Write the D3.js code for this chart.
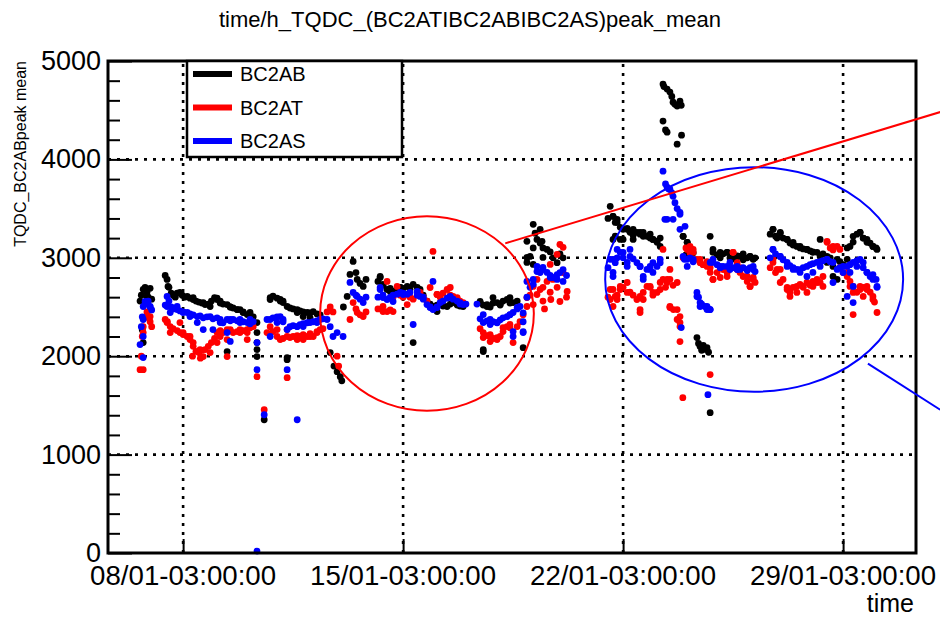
<!DOCTYPE html>
<html>
<head>
<meta charset="utf-8">
<script src="https://cdn.jsdelivr.net/npm/d3@7"></script>
<style>
  body { margin: 0; background: #fff; }
  svg { display: block; font-family: "Liberation Sans", Arial, sans-serif; }
</style>
</head>
<body>
<div id="chart"></div>
<script>
// time in days from 08/01 03:00, value = peak mean
const seriesNames = ["BC2AB", "BC2AT", "BC2AS"];
const seriesColors = ["#000000", "#ff0000", "#0000ff"];

const bc2ab = [
  [-1.37,2560],[-1.33,2620],[-1.27,2680],[-1.21,2700],[-1.15,2650],[-1.11,2600],[-1.05,2690],[-1.0,2580],[-1.3,2270],
  [-1.21,2678],[-1.15,2607],[-1.27,2138],
  [-0.57,2820],[-0.51,2780],[-0.45,2700],[-0.38,2640],[-0.32,2620],[-0.25,2600],[-0.19,2640],[-0.1,2648],[-0.03,2620],
  [0.05,2600],[0.13,2607],[0.22,2590],[0.32,2576],[0.41,2560],[0.5,2550],[0.6,2540],[0.7,2525],[0.8,2530],[0.9,2560],
  [1.0,2596],[1.08,2590],[1.18,2540],[1.27,2530],[1.4,2525],[1.5,2500],[1.59,2490],[1.72,2474],[1.81,2474],[1.91,2450],
  [2.04,2423],[2.13,2420],[2.23,2400],[2.35,2138],[2.35,2067],[2.35,1996],[2.58,1354],
  [-0.48,2709],[0.32,2596],[0.64,2545],[0.86,2505],[1.08,2576],[1.18,2560],[1.5,2500],[1.72,2474],[1.91,2444],
  [2.13,2444],[1.4,2047],[2.35,2342],[2.35,2240],
  [2.77,2596],[2.86,2610],[2.99,2590],[3.09,2576],[3.18,2560],[3.31,2505],[3.4,2490],[3.5,2480],[3.63,2474],[3.72,2460],
  [3.82,2450],[3.95,2444],[4.04,2440],[4.14,2454],[4.26,2430],[4.36,2420],[3.31,1986],
  [2.77,2576],[3.09,2560],[3.18,2545],[3.63,2444],[3.82,2403],[4.04,2390],[3.31,1965],
  [4.68,2037],[4.8,1900],[4.9,1843],[5.0,1792],[5.05,1750],[5.1,2500],[5.22,2607],[5.31,2831],[5.41,2963],[5.5,2850],
  [5.54,2780],[5.63,2740],[5.73,2709],[5.82,2780],
  [6.2,2760],[6.27,2810],[6.36,2720],[6.49,2678],[6.59,2690],[6.68,2660],[6.81,2678],[6.91,2700],[7.0,2690],[7.13,2709],
  [7.22,2680],[7.32,2729],[7.45,2700],[7.54,2678],[7.64,2620],[7.76,2560],[7.86,2530],[7.95,2505],[8.08,2520],[8.18,2540],
  [8.27,2510],[8.4,2505],[8.5,2530],[8.59,2545],[8.72,2520],[8.81,2510],[8.91,2505],[7.32,2138],
  [6.27,2800],[6.36,2729],[6.59,2658],[6.91,2698],[7.86,2525],[8.08,2454],[8.59,2556],[8.91,2530],
  [9.45,2545],[9.55,2520],[9.67,2505],[9.77,2500],[9.86,2540],[9.99,2545],[10.09,2520],[10.18,2560],[10.31,2576],
  [10.4,2540],[10.5,2545],[10.63,2560],[9.55,2047],[10.82,2087],
  [9.45,2556],[9.67,2525],[9.86,2596],[10.09,2530],[10.4,2596],[9.55,2067],
  [10.94,2953],[11.04,3014],[11.14,3340],[11.2,3250],[11.26,3187],[11.36,3150],[11.45,3100],[11.58,3085],[11.68,3060],
  [11.77,3000],[11.9,2950],[11.99,3040],[12.09,3000],
  [11.36,3289],[10.94,3167],[11.14,3100],[11.42,3167],[10.94,3004],[11.14,2933],[11.45,3004],
  [13.52,3400],[13.59,3523],[13.68,3421],[13.75,3360],[13.81,3391],[13.91,3310],[14.0,3289],[14.13,3300],[14.22,3259],
  [14.32,3289],[14.44,3259],[14.54,3240],[14.64,3259],[14.76,3218],[14.86,3200],[14.95,3187],[15.08,3157],[15.18,3200],
  [13.68,3187],[13.75,3220],
  [13.68,3421],[13.81,3360],[13.91,3187],[14.13,3289],[14.32,3230],[14.54,3259],[14.64,3218],[14.86,3240],[14.95,3187],
  [15.08,3170],[15.18,3116],[14.32,3187],[14.0,3187],
  [15.27,4766],[15.3,4740],[15.4,4715],[15.49,4684],[15.55,4640],[15.59,4582],[15.65,4560],[15.72,4542],[15.81,4593],
  [15.85,4550],[15.27,4389],[15.4,4277],[15.86,4246],[15.72,4155],[15.35,4300],
  [16.35,2189],[16.4,2130],[16.45,2098],[16.5,2060],[16.55,2110],[16.6,2070],[16.67,2087],[16.72,2040],[16.77,1426],
  [15.91,3218],[16.0,3030],[16.04,3157],[16.13,3100],[16.23,3050],[16.77,3218],[16.86,3055],[16.99,3030],[17.09,3000],
  [17.18,3040],[17.31,3055],[17.4,3000],[17.5,2990],[17.63,3020],[17.72,3014],[17.82,2980],[17.95,3000],[18.04,3014],
  [18.14,2990],[18.2,3000],
  [15.91,3218],[16.04,3157],[16.86,3085],[17.09,3055],[17.31,3055],[17.63,3014],[17.82,3040],[18.04,3014],[18.14,2984],
  [18.68,3240],[18.77,3289],[18.85,3220],[18.9,3200],[19.0,3259],[19.09,3200],[19.22,3187],[19.31,3150],[19.41,3130],
  [19.53,3116],[19.63,3100],[19.73,3090],[19.85,3085],[19.95,3070],[20.04,3060],[20.17,3055],[20.27,3187],[20.36,3040],
  [20.49,3014],[20.59,3000],[20.68,2810],[20.81,2984],[20.9,2960],[21.0,2930],[21.13,3100],[21.22,3116],[21.32,3218],
  [21.44,3240],[21.54,3259],[21.64,3200],[21.76,3187],[21.86,3150],[21.95,3116],[22.05,3100],
  [18.77,3289],[19.0,3250],[19.22,3187],[19.41,3157],[19.63,3116],[19.85,3085],[20.04,3055],[20.27,3014],[20.49,2953],
  [20.68,2912],[20.81,2780],[21.54,3259],[21.64,3200],[21.76,3157],[21.95,3116],[22.08,3085],[21.32,3160],[21.13,2984]
];

const bc2at = [
  [-1.37,1863],[-1.33,2000],[-1.3,2200],[-1.27,2300],[-1.21,2393],[-1.15,2450],[-1.11,2403],[-1.05,2350],[-1.0,2300],
  [-1.05,2403],[-1.27,2240],[-1.27,1863],
  [-0.57,2373],[-0.5,2350],[-0.41,2301],[-0.32,2280],[-0.19,2260],[-0.1,2240],[0.0,2220],[0.13,2200],[0.22,2169],
  [0.32,2100],[0.41,2050],[0.5,2037],[0.6,2060],[0.7,2067],[0.8,2100],[0.9,2138],[1.0,2180],[1.08,2240],[1.18,2260],
  [1.27,2240],[1.4,2271],[1.5,2260],[1.59,2240],[1.72,2250],[1.81,2240],[1.91,2260],[2.04,2271],[2.13,2290],[2.23,2300],
  [2.35,1792],[2.58,1456],[0.3,2000],[0.55,1980],
  [-0.51,2342],[-0.41,2240],[-0.1,2342],[0.0,2240],[0.22,2200],[0.32,2138],[0.54,2067],[0.64,1996],[0.86,2037],
  [1.08,2138],[1.18,2200],[1.5,2271],[1.81,2271],[2.04,2240],[1.4,1996],[1.4,2169],[2.04,2169],
  [2.77,2300],[2.86,2250],[2.99,2200],[3.09,2169],[3.18,2180],[3.31,2200],[3.4,2190],[3.5,2200],[3.63,2210],[3.72,2200],
  [3.82,2220],[3.95,2200],[4.04,2230],[4.14,2200],[4.26,2250],[4.36,2271],[4.45,2280],[3.31,1782],
  [2.67,2240],[2.99,2271],[3.31,2271],[3.63,2169],[3.82,2169],[4.04,2200],[4.26,2240],
  [4.58,2450],[4.68,2500],[4.77,2450],[4.9,2000],[4.95,1900],[5.31,2373],[5.41,2545],[5.5,2480],[5.54,2444],[5.63,2420],
  [5.73,2403],[5.82,2450],
  [6.2,2480],[6.36,2505],[6.49,2454],[6.59,2470],[6.68,2600],[6.81,2709],[6.91,2620],[7.0,2600],[7.13,2627],[7.22,2600],
  [7.32,2580],[7.45,2620],[7.54,2648],[7.64,2600],[7.76,2560],[7.95,3065],[8.08,2627],[8.18,2600],[8.27,2640],[8.4,2678],
  [8.5,2620],[8.59,2607],[8.72,2580],[8.81,2560],[8.91,2545],
  [6.49,2760],[6.36,2454],[6.68,2454],[7.13,2525],[7.86,2698],[8.08,2627],[8.5,2698],[8.72,2596],
  [9.45,2280],[9.55,2240],[9.67,2210],[9.77,2200],[9.86,2180],[9.99,2169],[10.09,2200],[10.18,2250],[10.31,2301],
  [10.4,2290],[10.5,2138],[10.63,2301],[10.72,2350],[10.82,2420],[10.94,2505],
  [9.55,2189],[9.77,2220],[9.99,2189],[9.77,2149],[10.18,2291],[10.4,2322],
  [11.04,2620],[11.14,2709],[11.26,2780],[11.36,2678],[11.45,2700],[11.5,2480],[11.58,2760],[11.68,2650],[11.7,2576],
  [11.77,2780],[11.9,2700],[11.99,3135],[12.09,2850],[12.2,2600],
  [10.94,2596],[11.14,2525],[11.26,2627],[11.45,2560],[11.9,3034],[12.09,3106],[11.68,2933],[11.99,2556],[12.22,2658],
  [13.52,2600],[13.59,2678],[13.68,2505],[13.75,2607],[13.81,2620],[13.91,2678],[14.0,2700],[14.13,2749],[14.22,2650],
  [14.32,2620],[14.44,2576],[14.54,2444],[14.64,2648],[14.76,2709],[14.86,2700],[14.95,2620],[15.08,2648],[15.18,2749],
  [15.27,2780],[15.35,2700],[15.4,2780],[15.49,2882],[15.27,3085],[15.49,2495],[15.6,2474],[15.72,2373],[15.81,2301],
  [15.81,2149],[15.9,1578],
  [13.68,2678],[13.59,2576],[13.81,2576],[13.91,2709],[14.13,2648],[14.54,2607],[14.54,2474],[14.64,2576],[14.86,2709],
  [14.95,2648],[15.18,2678],[15.4,2749],[15.49,2780],[15.59,2720],[15.72,2749],[15.49,2505],[15.72,2474],[15.81,2403],
  [15.81,2342],
  [15.91,3000],[16.0,3100],[16.04,3085],[16.13,3050],[16.23,3085],[16.35,2984],[16.45,2950],[16.54,2930],[16.67,2912],
  [16.77,2900],[16.86,2780],[16.99,2850],[17.09,2900],[17.18,2880],[17.31,2810],[17.4,2900],[17.5,3055],[17.63,2950],
  [17.72,2900],[17.82,2810],[17.95,2760],[18.04,2709],[18.14,2800],[18.2,2750],[16.77,1813],
  [16.13,3116],[16.23,3055],[16.45,2984],[16.67,2960],[16.77,2851],[16.86,2780],[17.09,2800],[17.31,2851],[17.5,3055],
  [17.63,2880],[17.72,2851],[17.95,2810],[18.04,2709],[18.14,2780],
  [18.68,2900],[18.77,2953],[18.85,2850],[19.0,2882],[19.09,2780],[19.22,2700],[19.31,2678],[19.31,2648],[19.41,2700],
  [19.53,2709],[19.63,2730],[19.73,2700],[19.85,2749],[19.95,2720],[20.04,2760],[20.17,2780],[20.27,2750],[20.36,2810],
  [20.49,3167],[20.59,3100],[20.68,3080],[20.81,3116],[20.9,2900],[21.0,2850],[21.13,2810],[21.22,2760],[21.32,2709],
  [21.32,2423],[21.44,2650],[21.54,2678],[21.64,2700],[21.76,2709],[21.86,2650],[21.95,2607],[22.0,2550],[22.08,2444],
  [18.77,2984],[18.9,2882],[19.0,2749],[19.22,2678],[19.31,2607],[19.53,2648],[19.73,2709],[19.85,2648],[20.04,2709],
  [20.17,2749],[20.36,2709],[20.49,3157],[20.68,3116],[20.9,3085],[21.13,2851],[21.22,2709],[21.32,2648],[21.54,2709],
  [21.64,2607],[21.76,2678],[21.95,2576]
];

const bc2as = [
  [-1.37,2118],[-1.33,2300],[-1.3,2400],[-1.27,2505],[-1.21,2556],[-1.15,2530],[-1.11,2560],[-1.05,2500],[-1.0,2470],
  [-1.05,2505],[-1.27,2373],[-1.27,2200],[-1.27,1986],
  [-0.57,2520],[-0.51,2607],[-0.45,2560],[-0.38,2500],[-0.32,2480],[-0.19,2474],[-0.1,2460],[0.0,2450],[0.13,2444],
  [0.22,2430],[0.32,2420],[0.45,2403],[0.54,2410],[0.64,2390],[0.76,2400],[0.86,2403],[0.95,2380],[1.08,2390],
  [1.18,2373],[1.27,2340],[1.4,2373],[1.5,2360],[1.59,2373],[1.72,2360],[1.81,2373],[1.91,2350],[2.04,2342],[2.13,2330],
  [2.23,2350],[1.4,2240],[1.5,2150],[2.35,1863],[2.35,20],[2.58,1405],
  [-0.51,2505],[-0.41,2444],[-0.19,2505],[0.0,2444],[0.22,2403],[0.45,2342],[0.64,2271],[0.95,2271],[1.18,2342],
  [1.5,2373],[1.81,2342],[2.13,2373],[2.35,2138],
  [2.77,2373],[2.86,2390],[2.99,2400],[3.09,2403],[3.18,2350],[3.31,2271],[3.4,2300],[3.5,2310],[3.63,2301],[3.72,2320],
  [3.82,2330],[3.95,2340],[4.04,2342],[4.14,2350],[4.26,2360],[4.36,2373],[4.45,2380],[3.31,1863],[3.63,1354],
  [2.67,2373],[2.77,2200],[2.99,2342],[3.18,2373],[3.63,2301],[3.82,2301],[4.26,2342],
  [4.58,2373],[4.68,2300],[4.77,2200],[4.9,2240],[5.09,2200],[5.31,2750],[5.41,2648],[5.5,2620],[5.54,2607],[5.63,2580],
  [5.73,2545],[5.82,2600],
  [6.2,2600],[6.27,2678],[6.36,2620],[6.49,2576],[6.59,2600],[6.68,2620],[6.81,2630],[6.91,2648],[7.0,2640],[7.13,2630],
  [7.22,2648],[7.32,2322],[7.45,2620],[7.54,2607],[7.64,2580],[7.76,2525],[7.86,2500],[7.95,2474],[7.95,2760],
  [8.08,2500],[8.18,2545],[8.27,2560],[8.4,2590],[8.5,2607],[8.59,2580],[8.72,2560],[8.81,2545],[8.91,2525],[9.0,2530],
  [6.27,2698],[6.36,2596],[6.68,2556],[7.0,2627],[7.45,2658],[7.64,2600],[7.86,2495],[8.08,2495],[8.5,2600],[8.81,2530],
  [9.45,2380],[9.55,2342],[9.67,2360],[9.77,2373],[9.86,2350],[9.99,2342],[10.09,2370],[10.18,2390],[10.31,2403],
  [10.4,2420],[10.5,2444],[10.5,2200],[10.63,2480],[10.72,2505],[10.82,2240],[10.82,2350],[10.94,2600],
  [9.35,2530],[9.55,2423],[9.77,2322],[9.99,2340],[10.4,2423],[10.63,2495],[10.5,2250],[10.82,2250],[10.82,2440],
  [11.04,2700],[11.14,2780],[11.26,2912],[11.36,2850],[11.45,2880],[11.58,2851],[11.68,2820],[11.77,2800],[11.9,2780],
  [11.99,2850],[12.09,2880],[12.2,2820],
  [10.94,2760],[11.26,2861],[11.45,2902],[11.68,2800],[11.9,2830],[12.09,2760],[11.14,2730],
  [13.52,2900],[13.59,2984],[13.68,2851],[13.75,2950],[13.81,3000],[13.91,3055],[14.0,3000],[14.13,2912],[14.22,3014],
  [14.32,2990],[14.44,2950],[14.54,2912],[14.64,2780],[14.76,2882],[14.86,2882],[14.95,2950],[15.08,2912],[15.18,2950],
  [13.68,2984],[13.81,3085],[14.0,3055],[14.22,3085],[14.13,2953],[13.68,2810],[14.54,2912],[14.64,2810],[14.86,2912],
  [14.95,2851],[15.18,2984],
  [15.27,3880],[15.35,3750],[15.4,3717],[15.45,3700],[15.49,3697],[15.55,3660],[15.59,3625],[15.65,3560],[15.72,3500],
  [15.81,3462],[15.59,3391],[15.33,3391],[15.97,3320],[15.81,3442],[15.85,2291],[15.4,3391],[15.81,3289],
  [16.35,2648],[16.4,2600],[16.45,2545],[16.5,2530],[16.6,2505],[16.67,2474],[16.72,2480],[16.77,2474],[16.7,1609],
  [16.35,2607],[16.45,2505],[16.67,2505],[16.77,2474],
  [15.95,2984],[16.04,2984],[16.13,3000],[16.23,2960],[16.77,2953],[16.86,2953],[16.99,2930],[17.09,2900],[17.18,2912],
  [17.31,2912],[17.4,2880],[17.5,2900],[17.63,2880],[17.72,2882],[17.82,2900],[17.95,2870],[18.04,2900],[18.14,2880],
  [18.2,2860],
  [15.91,3014],[16.04,2912],[16.23,2984],[16.86,2984],[17.09,2912],[17.4,2953],[17.63,2912],[17.95,2882],[18.14,2912],
  [18.68,3000],[18.77,3085],[18.85,3040],[19.0,3014],[19.09,2980],[19.22,2912],[19.31,2920],[19.41,2900],[19.53,2882],
  [19.63,2880],[19.73,2900],[19.85,2912],[19.95,2930],[20.04,2940],[20.17,2953],[20.27,2960],[20.36,2970],[20.49,2984],
  [20.59,2960],[20.68,2749],[20.81,2882],[20.9,2900],[21.0,2850],[21.13,2912],[21.22,2930],[21.32,2953],[21.32,2545],
  [21.44,2970],[21.54,2984],[21.64,2900],[21.76,2851],[21.86,2810],[21.95,2830],[22.05,2780],[22.08,2700],
  [18.77,3085],[19.0,3014],[19.22,2953],[19.41,2882],[19.63,2851],[19.85,2810],[20.04,2851],[20.27,2912],[20.49,2984],
  [20.68,2953],[21.0,2912],[21.22,2851],[21.44,2912],[21.64,2953],[21.76,2851],[21.95,2780],[22.08,2709],[21.32,2709],
  [21.13,2607]
];

const yTicks = [0, 1000, 2000, 3000, 4000, 5000];
const xTickDays = [0, 7, 14, 21];

// hand-drawn marks over the plot: ellipses [centre day, centre value, half-width days, half-height value]
const ellipses = [
  { c: [7.76, 2434], r: [3.40, 988], color: "#ff0000" },
  { c: [18.17, 2780], r: [4.74, 1141], color: "#0000ff" }
];
const arrows = [
  { from: [10.25, 3147], to: [24.09, 4481], color: "#ff0000" },
  { from: [21.79, 1925], to: [24.09, 1456], color: "#0000ff" }
];

const width = 940, height = 617;
const frame = { left: 108, right: 916, top: 61, bottom: 553 };

const base = Date.UTC(2018, 0, 8, 3, 0, 0);
const DAY = 86400000;
const toDate = d => new Date(base + d * DAY);

const svg = d3.select("#chart").append("svg")
  .attr("width", width)
  .attr("height", height);

svg.append("rect").attr("width", width).attr("height", height).attr("fill", "#fff");

const x = d3.scaleUtc()
  .domain([toDate(-2.39), toDate(23.32)])
  .range([frame.left, frame.right]);
const y = d3.scaleLinear()
  .domain([0, 5000])
  .range([frame.bottom, frame.top]);

// title
svg.append("text")
  .attr("x", 470).attr("y", 27)
  .attr("text-anchor", "middle")
  .attr("font-size", 22)
  .text("time/h_TQDC_(BC2ATIBC2ABIBC2AS)peak_mean");

// dotted grid
const grid = svg.append("g")
  .attr("stroke", "#000")
  .attr("stroke-width", 2.6)
  .attr("stroke-dasharray", "3,6");
grid.selectAll("line.gy")
  .data(yTicks.filter(v => v > 0 && v < 5000))
  .join("line")
  .attr("x1", frame.left).attr("x2", frame.right)
  .attr("y1", d => y(d)).attr("y2", d => y(d));
grid.selectAll("line.gx")
  .data(xTickDays)
  .join("line")
  .attr("x1", d => x(toDate(d))).attr("x2", d => x(toDate(d)))
  .attr("y1", frame.bottom).attr("y2", frame.top);

// points: black, red, blue
const allSeries = [bc2ab, bc2at, bc2as];
allSeries.forEach((pts, i) => {
  svg.append("g")
    .attr("fill", seriesColors[i])
    .selectAll("circle")
    .data(pts)
    .join("circle")
    .attr("cx", d => x(toDate(d[0])))
    .attr("cy", d => y(d[1]))
    .attr("r", 3.4);
});

// y axis (ticks inside)
const yAxis = d3.axisRight(y)
  .tickValues(d3.range(0, 5001, 200))
  .tickSize(0)
  .tickFormat("");
const yAxisG = svg.append("g")
  .attr("transform", `translate(${frame.left},0)`)
  .call(yAxis);
yAxisG.select(".domain").remove();
yAxisG.selectAll(".tick line")
  .attr("stroke", "#000")
  .attr("stroke-width", 2)
  .attr("x2", d => d % 1000 === 0 ? 24 : 12);

svg.append("g")
  .selectAll("text")
  .data(yTicks)
  .join("text")
  .attr("x", 101)
  .attr("y", d => y(d) + 9)
  .attr("text-anchor", "end")
  .attr("font-size", 27)
  .text(d => d);

// x axis
const fmt = d3.utcFormat("%d/%m-%H:%M:%S");
const xAxis = d3.axisTop(x)
  .tickValues(xTickDays.map(toDate))
  .tickSize(14)
  .tickFormat("");
const xAxisG = svg.append("g")
  .attr("transform", `translate(0,${frame.bottom})`)
  .call(xAxis);
xAxisG.select(".domain").remove();
xAxisG.selectAll(".tick line").attr("stroke", "#000").attr("stroke-width", 2);

svg.append("g")
  .selectAll("text")
  .data(xTickDays)
  .join("text")
  .attr("x", d => x(toDate(d)))
  .attr("y", 585)
  .attr("text-anchor", "middle")
  .attr("font-size", 27)
  .attr("textLength", 186)
  .attr("lengthAdjust", "spacingAndGlyphs")
  .text(d => fmt(toDate(d)));

// frame
svg.append("rect")
  .attr("x", frame.left).attr("y", frame.top)
  .attr("width", frame.right - frame.left)
  .attr("height", frame.bottom - frame.top)
  .attr("fill", "none")
  .attr("stroke", "#000")
  .attr("stroke-width", 3);

// axis titles
svg.append("text")
  .attr("x", 914).attr("y", 612)
  .attr("text-anchor", "end")
  .attr("font-size", 25)
  .text("time");
svg.append("text")
  .attr("transform", `translate(26,${frame.top}) rotate(-90)`)
  .attr("text-anchor", "end")
  .attr("font-size", 16)
  .text("TQDC_BC2ABpeak mean");

// legend
const legend = svg.append("g");
legend.append("rect")
  .attr("x", 187).attr("y", 61)
  .attr("width", 215).attr("height", 96)
  .attr("fill", "#fff")
  .attr("stroke", "#000")
  .attr("stroke-width", 2.5);
seriesNames.forEach((name, i) => {
  const ly = 74 + i * 33.5;
  legend.append("line")
    .attr("x1", 193).attr("x2", 232)
    .attr("y1", ly).attr("y2", ly)
    .attr("stroke", seriesColors[i])
    .attr("stroke-width", 6);
  legend.append("text")
    .attr("x", 240).attr("y", ly + 7)
    .attr("font-size", 20)
    .text(name);
});

// annotations
ellipses.forEach(e => {
  svg.append("ellipse")
    .attr("cx", x(toDate(e.c[0])))
    .attr("cy", y(e.c[1]))
    .attr("rx", x(toDate(e.c[0] + e.r[0])) - x(toDate(e.c[0])))
    .attr("ry", y(0) - y(e.r[1]))
    .attr("fill", "none")
    .attr("stroke", e.color)
    .attr("stroke-width", 2);
});
arrows.forEach(a => {
  svg.append("line")
    .attr("x1", x(toDate(a.from[0]))).attr("y1", y(a.from[1]))
    .attr("x2", x(toDate(a.to[0]))).attr("y2", y(a.to[1]))
    .attr("stroke", a.color)
    .attr("stroke-width", 2);
});
</script>
</body>
</html>
